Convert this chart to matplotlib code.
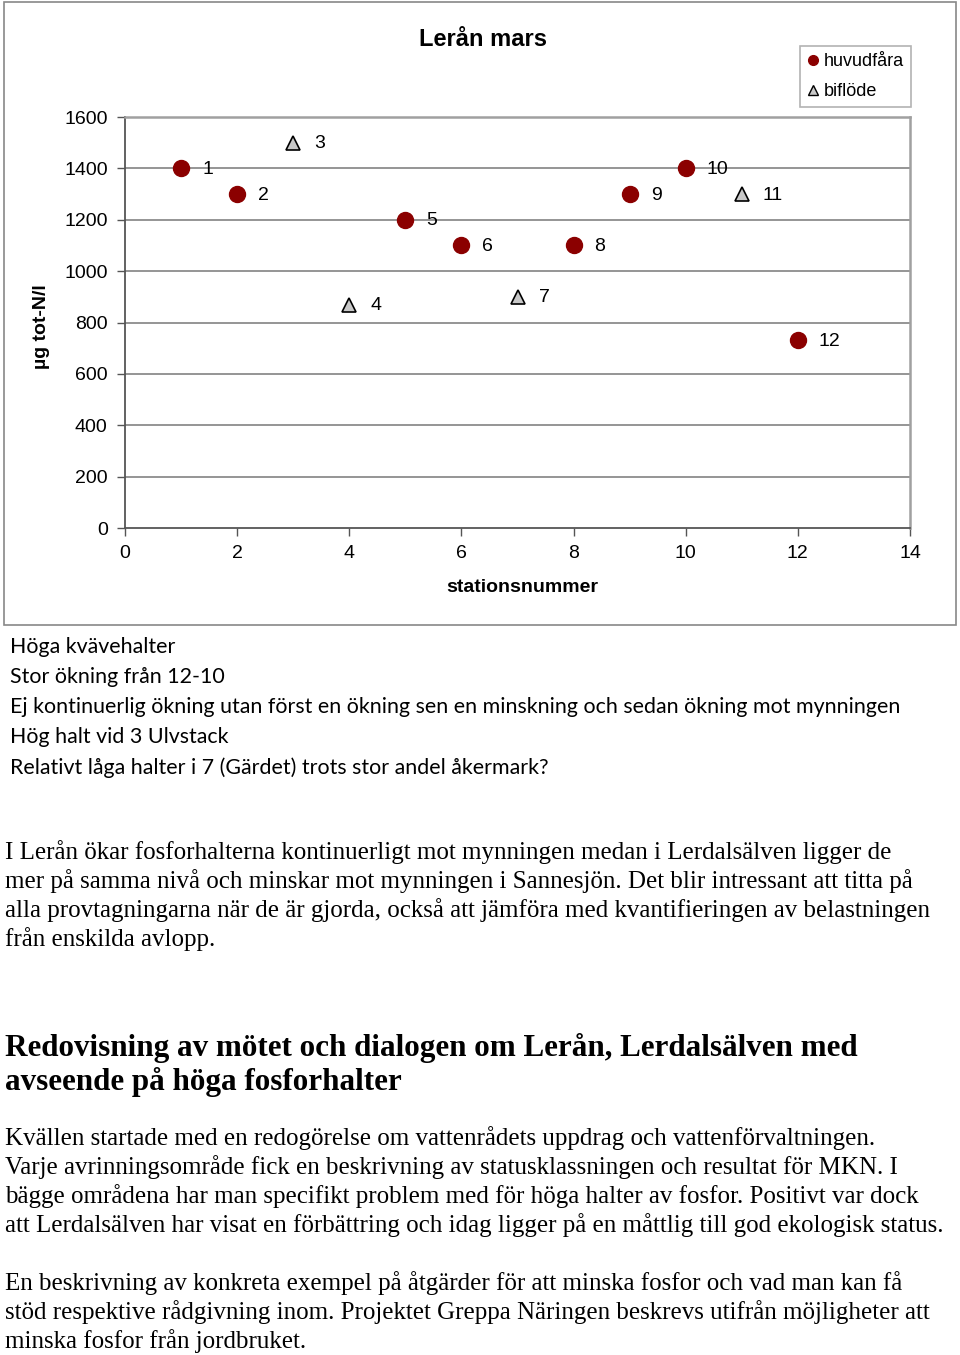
import matplotlib
matplotlib.use("Agg")
import matplotlib.pyplot as plt
from matplotlib.patches import Rectangle
from matplotlib.lines import Line2D

plt.rcParams["font.family"] = ["Liberation Sans", "DejaVu Sans"]

W, H = 960, 1355
DPI = 100

# ---- data ----
main_x = [1, 2, 5, 6, 8, 9, 10, 12]
main_y = [1400, 1300, 1200, 1100, 1100, 1300, 1400, 730]
trib_x = [3, 4, 7, 11]
trib_y = [1500, 870, 900, 1300]
x_ticks = [0, 2, 4, 6, 8, 10, 12, 14]
y_ticks = [0, 200, 400, 600, 800, 1000, 1200, 1400, 1600]
title = "Lerån mars"
xlabel = "stationsnummer"
ylabel = "µg tot-N/l"
legend_labels = ["huvudfåra", "biflöde"]

notes = [
    "Höga kvävehalter",
    "Stor ökning från 12-10",
    "Ej kontinuerlig ökning utan först en ökning sen en minskning och sedan ökning mot mynningen",
    "Hög halt vid 3 Ulvstack",
    "Relativt låga halter i 7 (Gärdet) trots stor andel åkermark?",
]
para1 = [
    "I Lerån ökar fosforhalterna kontinuerligt mot mynningen medan i Lerdalsälven ligger de",
    "mer på samma nivå och minskar mot mynningen i Sannesjön. Det blir intressant att titta på",
    "alla provtagningarna när de är gjorda, också att jämföra med kvantifieringen av belastningen",
    "från enskilda avlopp.",
]
heading = [
    "Redovisning av mötet och dialogen om Lerån, Lerdalsälven med",
    "avseende på höga fosforhalter",
]
para2 = [
    "Kvällen startade med en redogörelse om vattenrådets uppdrag och vattenförvaltningen.",
    "Varje avrinningsområde fick en beskrivning av statusklassningen och resultat för MKN. I",
    "bägge områdena har man specifikt problem med för höga halter av fosfor. Positivt var dock",
    "att Lerdalsälven har visat en förbättring och idag ligger på en måttlig till god ekologisk status.",
]
para3 = [
    "En beskrivning av konkreta exempel på åtgärder för att minska fosfor och vad man kan få",
    "stöd respektive rådgivning inom. Projektet Greppa Näringen beskrevs utifrån möjligheter att",
    "minska fosfor från jordbruket.",
]

fig = plt.figure(figsize=(W / DPI, H / DPI), dpi=DPI)
fig.patch.set_facecolor("white")

def fx(px):
    return px / W

def fy(py):
    return 1 - py / H

# outer chart box
fig.patches.append(Rectangle((fx(4), fy(625)), fx(952), 623 / H, transform=fig.transFigure,
                             fill=False, edgecolor="#888888", lw=1.2))

ax = fig.add_axes([fx(125), fy(528), fx(910 - 125), (528 - 117) / H])
ax.set_xlim(0, 14)
ax.set_ylim(0, 1600)
ax.set_xticks(x_ticks)
ax.set_yticks(y_ticks)
for yv in y_ticks[1:-1]:
    ax.axhline(yv, color="#8c8c8c", lw=1.3, zorder=1)
for s in ["top", "right"]:
    ax.spines[s].set_color("#a0a0a0")
    ax.spines[s].set_linewidth(1.8)
for s in ["left", "bottom"]:
    ax.spines[s].set_color("#555555")
    ax.spines[s].set_linewidth(1.3)
ax.tick_params(axis="both", colors="#555555", length=6, width=1.0, labelcolor="black",
               labelsize=14)
ax.tick_params(axis="x", pad=6)
ax.tick_params(axis="y", pad=6.5)

ax.plot(main_x, main_y, linestyle="none", marker="o", ms=11.5, mfc="#8b0000", mec="#8b0000",
        zorder=3, clip_on=False)
ax.plot(trib_x, trib_y, linestyle="none", marker="^", ms=10, mfc="#c8c8c8", mec="black",
        mew=1.2, zorder=3, clip_on=False)

for xv, yv in zip(main_x + trib_x, main_y + trib_y):
    ax.annotate(str(xv), (xv, yv), xytext=(21, -1), textcoords="offset pixels",
                ha="left", va="center", fontsize=14, zorder=4)

fig.text(fx(483), fy(39), title, ha="center", va="center", fontsize=17, fontweight="bold")
fig.text(fx(522), fy(588), xlabel, ha="center", va="center", fontsize=14, fontweight="bold")
fig.text(fx(42), fy(327), ylabel, ha="center", va="center", rotation=90, fontsize=14,
         fontweight="bold")

handles = [
    Line2D([], [], linestyle="none", marker="o", ms=7, mfc="#8b0000", mec="#8b0000"),
    Line2D([], [], linestyle="none", marker="^", ms=6.5, mfc="#c8c8c8", mec="black", mew=1.0),
]
leg = fig.legend(handles, legend_labels, loc="upper left",
                 bbox_to_anchor=(fx(800), fy(46)), borderaxespad=0, frameon=True, fancybox=False,
                 edgecolor="#a0a0a0", handlelength=0.6, handletextpad=0.3,
                 borderpad=0.4, labelspacing=0.7, prop={"size": 13})
leg.get_frame().set_linewidth(1.2)

fig.canvas.draw()
renderer = fig.canvas.get_renderer()

# notes (Calibri-like)
note_y = [647, 677, 707, 737, 768]
probe = fig.text(0, 0, notes[2], fontsize=15, family="Lato")
pw = probe.get_window_extent(renderer).width
probe.remove()
note_size = 15 * 888 / pw
for yv, s in zip(note_y, notes):
    fig.text(fx(10), fy(yv), s, ha="left", va="center", fontsize=note_size, family="Lato")

def para(lines, ys, ref_idx, ref_w, family, weight="normal", x0=5):
    probe = fig.text(0, 0, lines[ref_idx], fontsize=15, family=family, fontweight=weight)
    pw = probe.get_window_extent(renderer).width
    probe.remove()
    size = 15 * ref_w / pw
    for yv, s in zip(ys, lines):
        fig.text(fx(x0), fy(yv), s, ha="left", va="center", fontsize=size, family=family,
                 fontweight=weight)

para(para1, [852, 881, 910, 939], 2, 931, "Liberation Serif")
para(heading, [1048, 1082], 0, 857, "Liberation Serif", weight="bold")
para(para2, [1138, 1167, 1196, 1225], 3, 944, "Liberation Serif")
para(para3, [1283, 1312, 1341], 1, 930, "Liberation Serif")

fig.savefig("out.png", dpi=DPI)
